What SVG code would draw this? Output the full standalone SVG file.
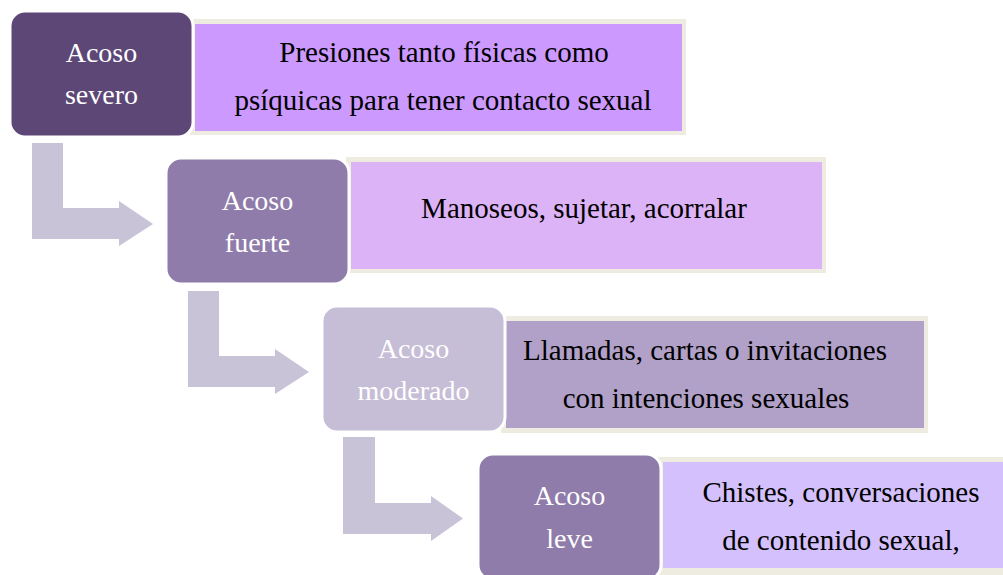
<svg xmlns="http://www.w3.org/2000/svg" width="1003" height="575" viewBox="0 0 1003 575">
<style>
.frame{fill:#EEEBE1}
.node{stroke:#FFFFFF;stroke-width:3}
.arrow{fill:#C9C3D8}
.nt{font-family:'Liberation Serif','Times New Roman','DejaVu Serif',serif;font-size:28px;fill:#FFFFFF;text-anchor:middle}
.dt{font-family:'Liberation Serif','Times New Roman','DejaVu Serif',serif;font-size:29px;fill:#000000;text-anchor:middle}
</style>
<rect width="1003" height="575" fill="#FFFFFF"/>
<g id="connectors">
<path class="arrow" d="M32,143 H63 V208 H119 V201 L153,224 L119,246 V239 H32 Z"/>
<path class="arrow" d="M188,291 H219 V356 H275 V349 L309,372 L275,394 V387 H188 Z"/>
<path class="arrow" d="M343,437 H375 V503 H431 V496 L463,518.5 L431,541 V534 H343 Z"/>
</g>
<g id="desc1">
<rect class="frame" x="190" y="19" width="496" height="116"/>
<rect x="195" y="24" width="487" height="107" fill="#CC99FF"/>
<text class="dt" x="444" y="62" font-family="Liberation Serif, serif">Presiones tanto físicas como</text>
<text class="dt" x="443" y="110" font-family="Liberation Serif, serif">psíquicas para tener contacto sexual</text>
</g>
<g id="node1">
<rect class="node" x="10" y="11" width="183" height="126" rx="15" fill="#5D4777"/>
<text class="nt" x="101.5" y="62" font-family="Liberation Serif, serif">Acoso</text>
<text class="nt" x="101.5" y="104" font-family="Liberation Serif, serif">severo</text>
</g>
<g id="desc2">
<rect class="frame" x="346" y="157" width="480" height="116"/>
<rect x="351" y="162" width="471" height="107" fill="#DDB3F7"/>
<text class="dt" x="584" y="218" font-family="Liberation Serif, serif">Manoseos, sujetar, acorralar</text>
</g>
<g id="node2">
<rect class="node" x="166" y="158" width="183" height="126" rx="15" fill="#8F7CAA"/>
<text class="nt" x="257.5" y="210" font-family="Liberation Serif, serif">Acoso</text>
<text class="nt" x="257.5" y="252" font-family="Liberation Serif, serif">fuerte</text>
</g>
<g id="desc3">
<rect class="frame" x="501" y="316" width="427" height="117"/>
<rect x="506" y="321" width="418" height="107" fill="#B1A0C8"/>
<text class="dt" x="705" y="360" font-family="Liberation Serif, serif">Llamadas, cartas o invitaciones</text>
<text class="dt" x="706" y="408" font-family="Liberation Serif, serif">con intenciones sexuales</text>
</g>
<g id="node3">
<rect class="node" x="322" y="306" width="183" height="126" rx="15" fill="#C6BDD6"/>
<text class="nt" x="413.5" y="358" font-family="Liberation Serif, serif">Acoso</text>
<text class="nt" x="413.5" y="400" font-family="Liberation Serif, serif">moderado</text>
</g>
<g id="desc4">
<rect class="frame" x="658" y="457" width="350" height="120"/>
<rect x="663" y="462" width="345" height="106" fill="#D4C0FC"/>
<text class="dt" x="841" y="502" font-family="Liberation Serif, serif">Chistes, conversaciones</text>
<text class="dt" x="841" y="550" font-family="Liberation Serif, serif">de contenido sexual,</text>
</g>
<g id="node4">
<rect class="node" x="478" y="454" width="183" height="126" rx="15" fill="#8F7CAA"/>
<text class="nt" x="569.5" y="505" font-family="Liberation Serif, serif">Acoso</text>
<text class="nt" x="569.5" y="548" font-family="Liberation Serif, serif">leve</text>
</g>
</svg>
